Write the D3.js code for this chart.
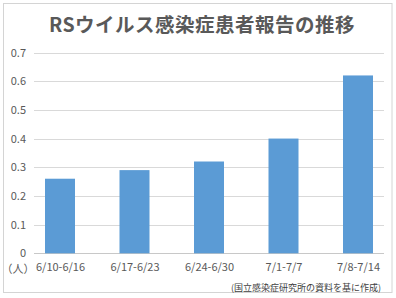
<!DOCTYPE html>
<html><head><meta charset="utf-8">
<script src="https://cdn.jsdelivr.net/npm/d3@7"></script>
<style>html,body{margin:0;padding:0;background:#fff;}</style>
</head><body>
<svg id="c" width="396" height="298"></svg>
<script>
const title = "RSウイルス感染症患者報告の推移";
const categories = ["6/10-6/16", "6/17-6/23", "6/24-6/30", "7/1-7/7", "7/8-7/14"];
const values = [0.26, 0.29, 0.32, 0.40, 0.62];
const yTicks = [0, 0.1, 0.2, 0.3, 0.4, 0.5, 0.6, 0.7];
const unitLabel = "（人）";
const sourceNote = "(国立感染症研究所の資料を基に作成)";

const svg = d3.select("#c");
const font = "'Noto Sans CJK JP', 'Noto Sans', sans-serif";
const textColor = "#595959";

svg.append("rect").attr("x", 3.5).attr("y", 3.5).attr("width", 388.5).attr("height", 289)
  .attr("fill", "#fff").attr("stroke", "#d4d4d4");

svg.append("text").attr("x", 202).attr("y", 31.5).attr("text-anchor", "middle")
  .attr("font-family", font).attr("font-size", 19.5).attr("font-weight", "bold")
  .attr("letter-spacing", 0.5)
  .attr("fill", textColor).text(title);

const y = d3.scaleLinear().domain([0, 0.7]).range([253.3, 52.5]);
const x = d3.scalePoint().domain(categories).range([60, 358]);
const barW = 30;

// gridlines
svg.append("g").selectAll("line").data(yTicks).join("line")
  .attr("x1", 34).attr("x2", 384)
  .attr("y1", d => Math.round(y(d)) + 0.5).attr("y2", d => Math.round(y(d)) + 0.5)
  .attr("stroke", d => d === 0 ? "#c8c8c8" : "#d9d9d9").attr("stroke-width", 1);

// y axis labels
const yAxis = d3.axisLeft(y).tickValues(yTicks).tickSize(0).tickPadding(0)
  .tickFormat(d => d === 0 ? "0" : d3.format(".1f")(d));
const ya = svg.append("g").attr("transform", "translate(26,0)").call(yAxis);
ya.select(".domain").remove();
ya.selectAll("text").attr("font-family", font).attr("font-size", 11).attr("fill", textColor);

// bars
svg.append("g").selectAll("rect").data(values).join("rect")
  .attr("x", (d, i) => x(categories[i]) - barW / 2)
  .attr("width", barW)
  .attr("y", d => y(d))
  .attr("height", d => y(0) - y(d))
  .attr("fill", "#5b9bd5");

// x axis labels
const xAxis = d3.axisBottom(x).tickSize(0).tickPadding(0);
const xa = svg.append("g").attr("transform", "translate(0,263)").call(xAxis);
xa.select(".domain").remove();
xa.selectAll("text").attr("font-family", font).attr("font-size", 11).attr("fill", textColor);

svg.append("text").attr("x", 18).attr("y", 272.5).attr("text-anchor", "middle")
  .attr("font-family", font).attr("font-size", 11).attr("fill", textColor).text(unitLabel);

svg.append("text").attr("x", 381).attr("y", 291).attr("text-anchor", "end")
  .attr("font-family", font).attr("font-size", 9).attr("fill", "#404040").text(sourceNote);
</script>
</body></html>
